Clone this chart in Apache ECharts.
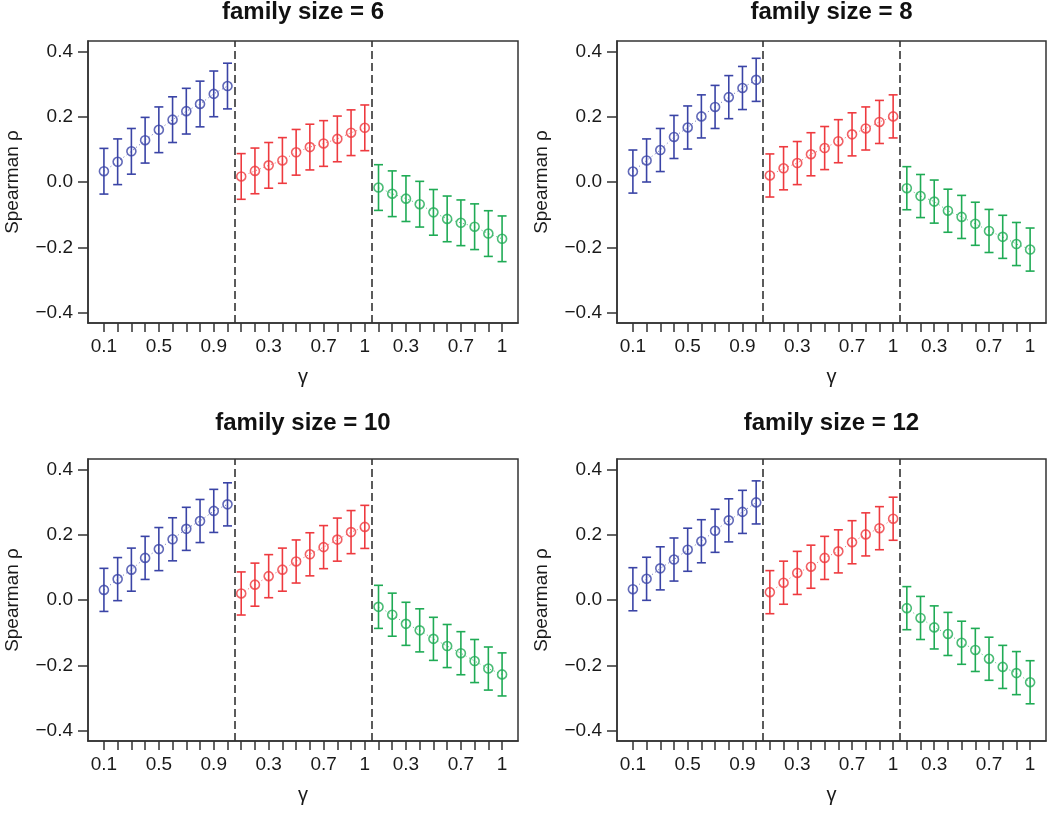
<!DOCTYPE html>
<html>
<head>
<meta charset="utf-8">
<script src="https://cdn.jsdelivr.net/npm/echarts@6/dist/echarts.min.js"></script>
<style>
html,body{margin:0;padding:0;background:#fff;}
#chart{width:1050px;height:813px;}
</style>
</head>
<body>
<div id="chart"></div>
<script>
// ---- data ----
const titles = ['family size = 6', 'family size = 8', 'family size = 10', 'family size = 12'];
const gammas = [0.1, 0.2, 0.3, 0.4, 0.5, 0.6, 0.7, 0.8, 0.9, 1];
const xLabelPositions = [1, 5, 9, 13, 17, 20, 23, 27, 30];
const yTicks = [-0.4, -0.2, 0, 0.2, 0.4];

const blue6  = [0.033, 0.062, 0.094, 0.128, 0.160, 0.191, 0.217, 0.239, 0.270, 0.294];
const red6   = [0.017, 0.034, 0.051, 0.066, 0.091, 0.107, 0.118, 0.132, 0.151, 0.166];
const green6 = [-0.017, -0.036, -0.051, -0.068, -0.093, -0.113, -0.125, -0.137, -0.158, -0.174];
const half6 = 0.070;

const blue8  = [0.032, 0.066, 0.098, 0.138, 0.167, 0.201, 0.230, 0.260, 0.288, 0.313];
const red8   = [0.020, 0.042, 0.058, 0.085, 0.104, 0.125, 0.146, 0.164, 0.184, 0.201];
const green8 = [-0.019, -0.043, -0.060, -0.088, -0.107, -0.128, -0.150, -0.168, -0.190, -0.207];
const half8 = 0.066;

const blue10  = [0.031, 0.064, 0.093, 0.129, 0.156, 0.186, 0.218, 0.242, 0.273, 0.293];
const red10   = [0.020, 0.047, 0.073, 0.093, 0.118, 0.140, 0.162, 0.185, 0.208, 0.224];
const green10 = [-0.021, -0.045, -0.073, -0.093, -0.119, -0.141, -0.163, -0.187, -0.210, -0.228];
const half10 = 0.066;

const blue12  = [0.033, 0.065, 0.097, 0.124, 0.154, 0.180, 0.212, 0.244, 0.270, 0.299];
const red12   = [0.024, 0.053, 0.083, 0.102, 0.129, 0.149, 0.177, 0.201, 0.220, 0.249];
const green12 = [-0.025, -0.055, -0.084, -0.104, -0.131, -0.153, -0.180, -0.205, -0.224, -0.252];
const half12 = 0.066;

const panelMeans = [[blue6, red6, green6], [blue8, red8, green8], [blue10, red10, green10], [blue12, red12, green12]];
const panelHalf = [half6, half8, half10, half12];
const groupColors = ['#3a44a6', '#ee3a3f', '#1fab55'];
const dividers = [10.5, 20.5];

// ---- layout ----
const grids = [
  {left: 88, top: 41, width: 430, height: 282, titleTop: 0},
  {left: 617, top: 41, width: 429, height: 282, titleTop: 0},
  {left: 88, top: 459, width: 430, height: 282, titleTop: 411},
  {left: 617, top: 459, width: 429, height: 282, titleTop: 411}
];
const FONT = '"Liberation Sans", Arial, Helvetica, sans-serif';
const TXT = '#1a1a1a';
const BOX = '#333333';

const option = {
  animation: false,
  backgroundColor: '#ffffff',
  title: [],
  grid: [],
  xAxis: [],
  yAxis: [],
  series: []
};

grids.forEach((g, p) => {
  option.title.push({
    text: titles[p],
    left: g.left + g.width / 2,
    top: g.titleTop,
    padding: 0,
    textAlign: 'center',
    textStyle: {fontFamily: FONT, fontSize: 24, fontWeight: 'bold', color: '#111'}
  });
  option.grid.push({
    left: g.left, top: g.top, width: g.width, height: g.height,
    show: true, borderColor: BOX, borderWidth: 1.5, backgroundColor: 'transparent'
  });
  option.xAxis.push({
    type: 'value', gridIndex: p, min: -0.16, max: 31.16,
    name: 'γ', nameLocation: 'middle', nameGap: 44,
    nameTextStyle: {fontFamily: FONT, fontSize: 20, color: TXT},
    axisLine: {show: true, onZero: false, lineStyle: {color: BOX, width: 1.5}},
    axisTick: {show: true, inside: false, length: 9, lineStyle: {color: BOX, width: 1.5},
               customValues: Array.from({length: 30}, (_, i) => i + 1)},
    axisLabel: {show: true, margin: 14, fontFamily: FONT, fontSize: 19, color: TXT,
                customValues: xLabelPositions,
                formatter: v => String(gammas[(Math.round(v) - 1) % 10])},
    splitLine: {show: false}
  });
  option.yAxis.push({
    type: 'value', gridIndex: p, min: -0.432, max: 0.432,
    name: 'Spearman ρ', nameLocation: 'middle', nameGap: 66, nameRotate: 90,
    nameTextStyle: {fontFamily: FONT, fontSize: 19, color: TXT},
    axisLine: {show: true, onZero: false, lineStyle: {color: BOX, width: 1.5}},
    axisTick: {show: true, inside: false, length: 10, lineStyle: {color: BOX, width: 1.5},
               customValues: yTicks},
    axisLabel: {show: true, margin: 15, fontFamily: FONT, fontSize: 19, color: TXT,
                customValues: yTicks,
                formatter: v => (v < -1e-9 ? '\u2212' : '') + Math.abs(v).toFixed(1)},
    splitLine: {show: false}
  });

  const means = panelMeans[p];
  const half = panelHalf[p];
  means.forEach((arr, gi) => {
    const col = groupColors[gi];
    const pts = arr.map((m, i) => [gi * 10 + i + 1, m]);
    const bars = arr.map((m, i) => [gi * 10 + i + 1, m - half, m + half]);
    // dotted connecting line
    option.series.push({
      type: 'line', xAxisIndex: p, yAxisIndex: p, data: pts,
      showSymbol: false, silent: true, z: 2,
      lineStyle: {color: col, width: 1, type: [1, 3], opacity: 0.8}
    });
    // error bars
    option.series.push({
      type: 'custom', xAxisIndex: p, yAxisIndex: p, data: bars, silent: true, z: 3,
      renderItem: (params, api) => {
        const x = api.value(0);
        const lo = api.coord([x, api.value(1)]);
        const hi = api.coord([x, api.value(2)]);
        const w = 4.5;
        const st = {stroke: col, lineWidth: 1.6};
        return {type: 'group', children: [
          {type: 'line', shape: {x1: lo[0], y1: lo[1], x2: hi[0], y2: hi[1]}, style: st},
          {type: 'line', shape: {x1: lo[0] - w, y1: lo[1], x2: lo[0] + w, y2: lo[1]}, style: st},
          {type: 'line', shape: {x1: hi[0] - w, y1: hi[1], x2: hi[0] + w, y2: hi[1]}, style: st}
        ]};
      }
    });
    // open circles
    option.series.push({
      type: 'scatter', xAxisIndex: p, yAxisIndex: p, data: pts, silent: true, z: 4,
      symbol: 'circle', symbolSize: 9,
      itemStyle: {color: 'rgba(255,255,255,0)', borderColor: col, borderWidth: 1.6}
    });
  });
  // dashed dividers
  option.series.push({
    type: 'line', xAxisIndex: p, yAxisIndex: p, data: [], silent: true,
    markLine: {
      symbol: ['none', 'none'], silent: true, label: {show: false},
      lineStyle: {color: '#333', width: 1.6, type: [8, 4]},
      data: dividers.map(d => ({xAxis: d}))
    }
  });
});

const chart = echarts.init(document.getElementById('chart'), null, {renderer: 'canvas'});
chart.setOption(option);
</script>
</body>
</html>
